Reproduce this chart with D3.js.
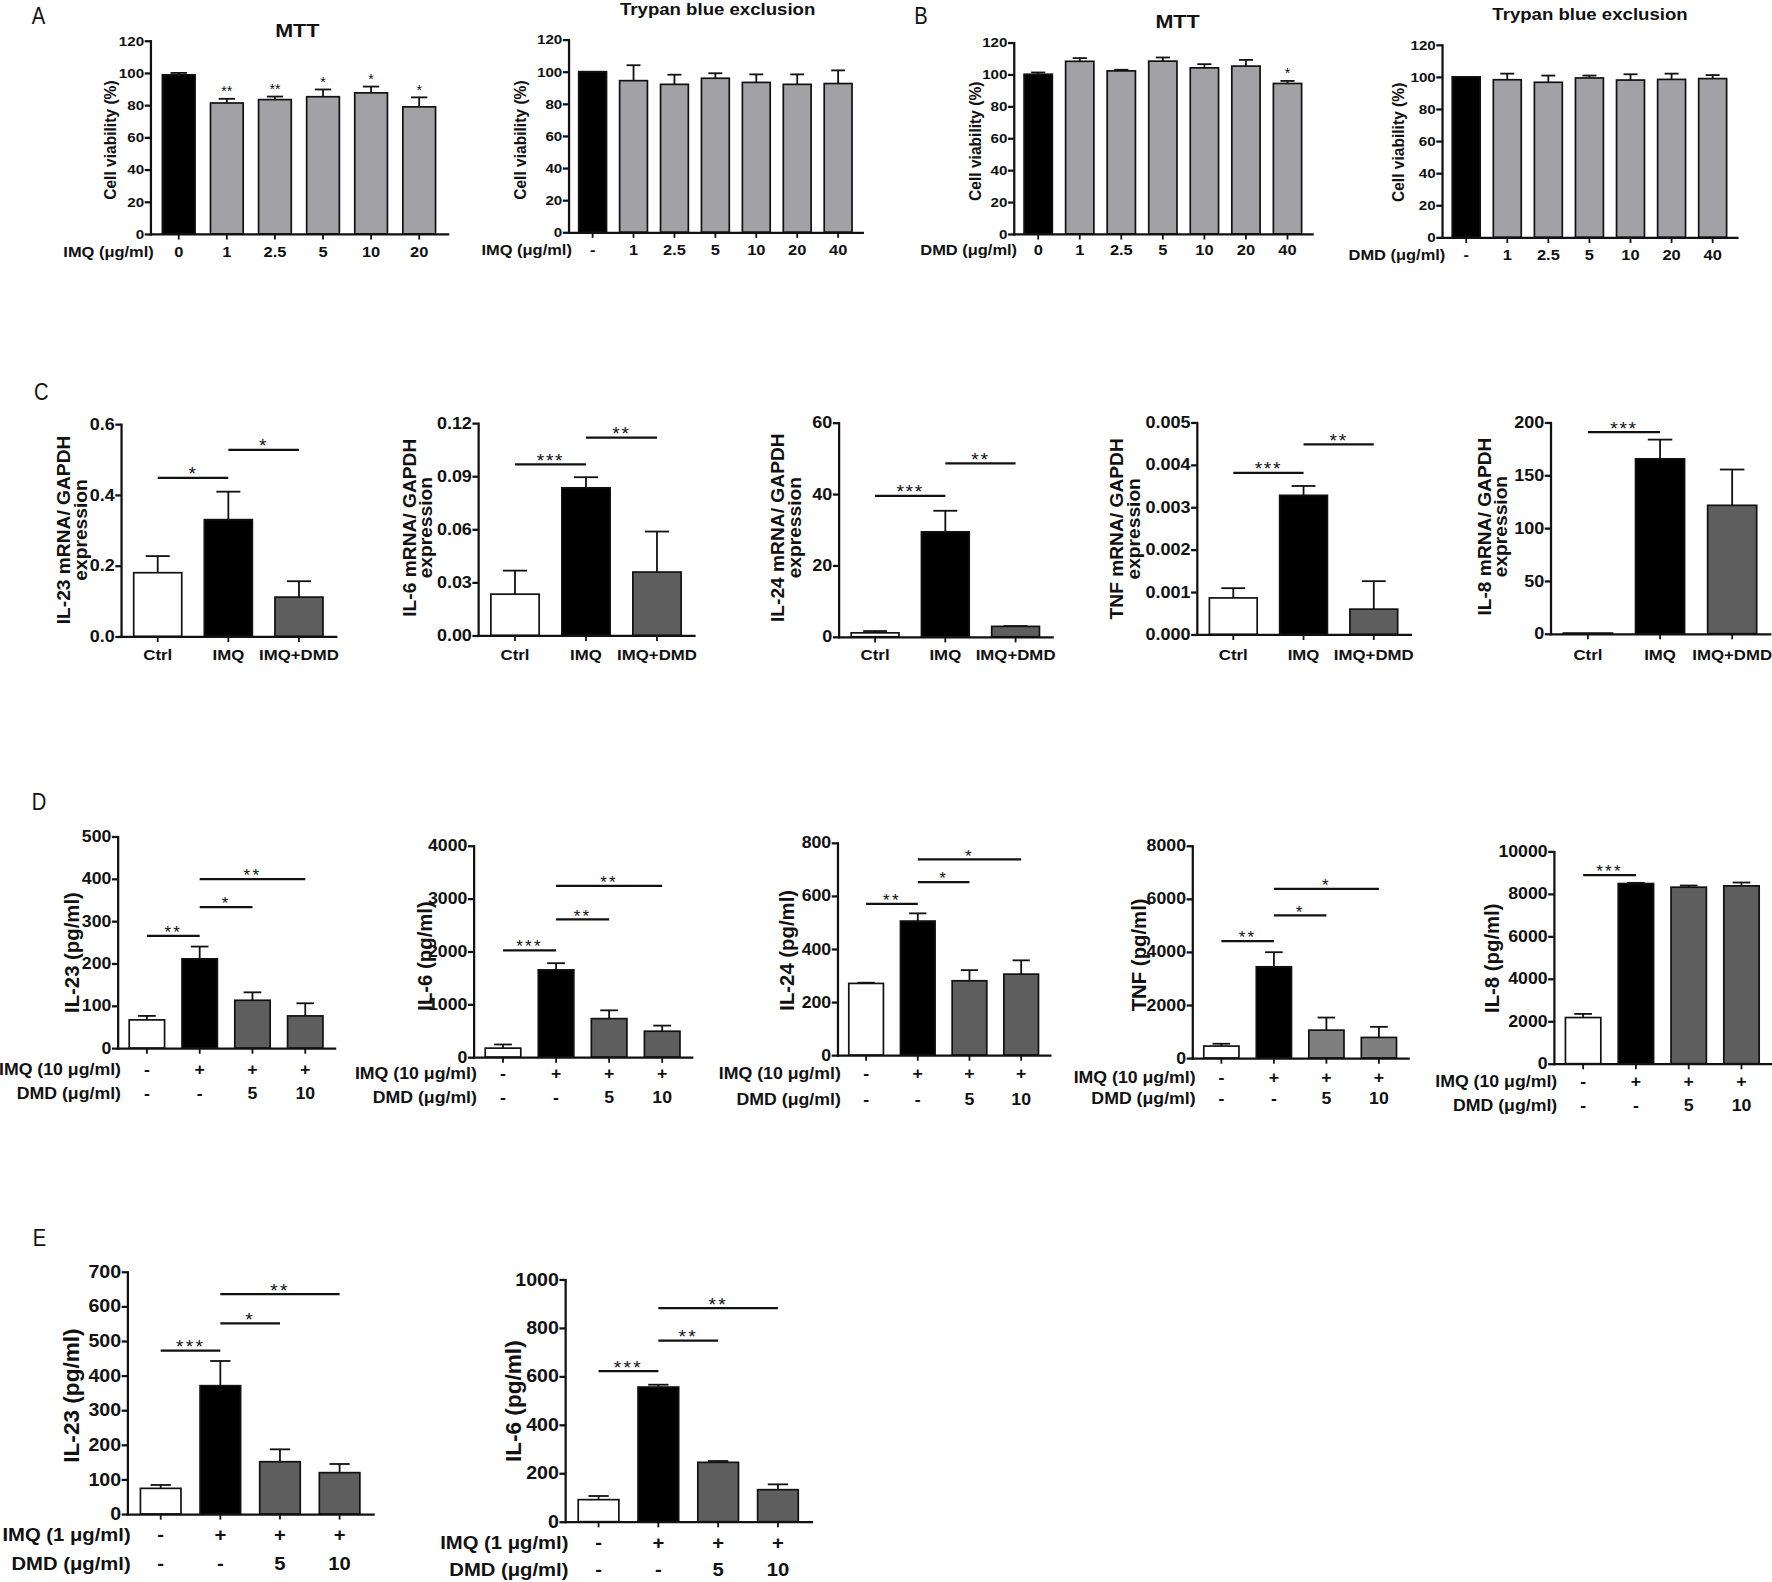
<!DOCTYPE html>
<html>
<head>
<meta charset="utf-8">
<script src="https://cdn.jsdelivr.net/npm/d3@7"></script>
<style>
  body { margin: 0; background: #fff; }
  svg { display: block; }
</style>
</head>
<body>
<svg id="fig"></svg>
<script>
// ---------- data ----------

// A: IMQ cytotoxicity
const imqDoseMTT = ["0", "1", "2.5", "5", "10", "20"];
const imqMTTMean = [98.8, 81.3, 83.4, 85.2, 87.6, 78.9];
const imqMTTErr = [1.2, 2.6, 1.9, 4.5, 3.9, 5.9];
const imqMTTStars = ["", "**", "**", "*", "*", "*"];

const imqDoseTrypan = ["-", "1", "2.5", "5", "10", "20", "40"];
const imqTrypanMean = [100, 94.4, 92.1, 95.9, 93.3, 92.1, 92.6];
const imqTrypanErr = [0, 9.6, 6.0, 3.1, 5.0, 6.2, 8.2];

// B: DMD cytotoxicity
const dmdDoseMTT = ["0", "1", "2.5", "5", "10", "20", "40"];
const dmdMTTMean = [100.1, 108.2, 102.2, 108.3, 104.1, 105.2, 94.3];
const dmdMTTErr = [1.1, 2.0, 0.7, 2.3, 2.3, 3.9, 1.6];
const dmdMTTStars = ["", "", "", "", "", "", "*"];

const dmdDoseTrypan = ["-", "1", "2.5", "5", "10", "20", "40"];
const dmdTrypanMean = [100, 98.2, 96.6, 99.3, 98.0, 98.4, 98.9];
const dmdTrypanErr = [0, 3.8, 4.2, 1.5, 3.6, 3.6, 2.2];

const viabilityTicks = [0, 20, 40, 60, 80, 100, 120];

// C: mRNA / GAPDH
const mrnaGroups = ["Ctrl", "IMQ", "IMQ+DMD"];
const il23mRNAMean = [0.18, 0.33, 0.111];
const il23mRNAErr = [0.047, 0.079, 0.045];
const il23mRNASig = [[0, 1, 0.448, "*"], [1, 2, 0.527, "*"]];
const il6mRNAMean = [0.0233, 0.0834, 0.0358];
const il6mRNAErr = [0.0133, 0.006, 0.0229];
const il6mRNASig = [[0, 1, 0.0966, "***"], [1, 2, 0.1118, "**"]];
const il24mRNAMean = [1.1, 29.4, 2.9];
const il24mRNAErr = [0.5, 5.9, 0.1];
const il24mRNASig = [[0, 1, 39.5, "***"], [1, 2, 48.6, "**"]];
const tnfmRNAMean = [0.00086, 0.00328, 0.000595];
const tnfmRNAErr = [0.00023, 0.00022, 0.00066];
const tnfmRNASig = [[0, 1, 0.00381, "***"], [1, 2, 0.00448, "**"]];
const il8mRNAMean = [0.6, 165.5, 121.5];
const il8mRNAErr = [0, 18.2, 33.9];
const il8mRNASig = [[0, 1, 190.9, "***"]];

// D: protein, IMQ 10 ug/ml
const imqSign = ["-", "+", "+", "+"];
const dmdDose = ["-", "-", "5", "10"];
const il23Mean = [66.6, 210.8, 112.9, 76.0];
const il23Err = [9.4, 29.0, 18.8, 29.8];
const il23Sig = [[0, 1, 265, "**"], [1, 2, 333, "*"], [1, 3, 399, "**"]];
const il6Mean = [170, 1651, 728, 490];
const il6Err = [69, 126, 157, 106];
const il6Sig = [[0, 1, 2021, "***"], [1, 2, 2605, "**"], [1, 3, 3239, "**"]];
const il24Mean = [270, 505, 280, 305];
const il24Err = [2.6, 29, 40, 52];
const il24Sig = [[0, 1, 570, "**"], [1, 2, 652, "*"], [1, 3, 737, "*"]];
const tnfMean = [450, 3437, 1050, 775];
const tnfErr = [87, 550, 475, 400];
const tnfSig = [[0, 1, 4400, "**"], [1, 2, 5375, "*"], [1, 3, 6375, "*"]];
const il8Mean = [2172, 8484, 8312, 8375];
const il8Err = [172, 32, 78, 156];
const il8Sig = [[0, 1, 8875, "***"]];

// E: protein, IMQ 1 ug/ml
const il23LowMean = [74, 370.7, 151, 119.4];
const il23LowErr = [9.8, 71.3, 35.8, 25];
const il23LowSig = [[0, 1, 471.8, "***"], [1, 2, 550.7, "*"], [1, 3, 635.5, "**"]];
const il6LowMean = [90.8, 555.7, 244.8, 132];
const il6LowErr = [15.1, 9.6, 5.5, 22];
const il6LowSig = [[0, 1, 621.7, "***"], [1, 2, 747, "**"], [1, 3, 881.7, "**"]];

// ---------- drawing ----------

const W = 1568, H = 1400;   // drawing units, stretched to the 1772x1582 window
const FONT = '"Liberation Sans", Arial, Helvetica, sans-serif';
const SX = 1.12;            // the figure's lettering is a bit wider than plain Arial

const svg = d3.select('#fig')
	.attr('width', 1772)
	.attr('height', 1582)
	.attr('viewBox', `0 0 ${W} ${H}`);

svg.append('rect').attr('width', W).attr('height', H).attr('fill', '#fff');

const INK = '#111';
const GRAY_AB = '#a2a2a6';
const DARK = '#5e5e5e';

const styleAB = {tick: 12, cat: 13, yl: 13.8, star: 12.5, starSp: 0, ylGap: 15};
const styleC = {tick: 14.2, cat: 13.3, yl: 17, star: 17, starSp: 1.5, ylGap: 14.5};
const styleD = {tick: 14, cat: 14, yl: 18, star: 15, starSp: 2, ylGap: 15};
const styleE = {tick: 15.5, cat: 16, yl: 20, star: 17, starSp: 2, ylGap: 15};

// move x/y into a transform so the glyphs can be widened around their anchor
function widen(sel, sx) {
	sel.each(function() {
		const t = d3.select(this);
		const x = +t.attr('x') || 0;
		const y = +t.attr('y') || 0;
		t.attr('x', null).attr('y', null)
			.attr('transform', `translate(${x},${y}) scale(${sx},1)`);
	});
}

function barPanel(p) {
	const s = p.style;
	const g = svg.append('g').attr('font-family', FONT).attr('fill', INK);
	const n = p.mean.length;

	const x = d3.scaleBand()
		.domain(d3.range(n))
		.range([p.left, p.right])
		.paddingInner(p.padIn || 0.32)
		.paddingOuter(p.padOut || 0.25);
	const y = d3.scaleLinear().domain([0, p.max]).range([p.bottom, p.top]);
	const bw = x.bandwidth();
	const cx = i => x(i) + bw / 2;

	const rows = p.mean.map((m, i) => ({i: i, m: m, e: p.err[i]}));

	// error bars (upper only, Prism style)
	const eb = g.append('g').attr('stroke', INK).attr('stroke-width', 1.6);
	eb.selectAll('line.stem')
		.data(rows.filter(d => d.e > 0))
		.join('line')
		.attr('x1', d => cx(d.i)).attr('x2', d => cx(d.i))
		.attr('y1', d => y(d.m)).attr('y2', d => y(d.m + d.e));
	eb.selectAll('line.cap')
		.data(rows.filter(d => d.e > 0))
		.join('line')
		.attr('x1', d => cx(d.i) - bw * 0.25).attr('x2', d => cx(d.i) + bw * 0.25)
		.attr('y1', d => y(d.m + d.e)).attr('y2', d => y(d.m + d.e));

	g.selectAll('rect.bar')
		.data(rows)
		.join('rect')
		.attr('x', d => x(d.i))
		.attr('y', d => y(d.m))
		.attr('width', bw)
		.attr('height', d => y(0) - y(d.m))
		.attr('fill', d => p.fills[d.i])
		.attr('stroke', INK)
		.attr('stroke-width', 1.5);

	// axes
	const yAxis = d3.axisLeft(y)
		.tickValues(p.ticks)
		.tickFormat(p.fmt || d3.format('d'))
		.tickSize(5).tickSizeOuter(0).tickPadding(0.5);
	g.append('g')
		.attr('transform', `translate(${p.left},0)`)
		.call(yAxis)
		.call(a => a.select('.domain').attr('stroke', INK).attr('stroke-width', 2).attr('stroke-linecap', 'square'))
		.call(a => a.selectAll('.tick line').attr('stroke', INK).attr('stroke-width', 2))
		.call(a => a.selectAll('.tick text')
			.attr('fill', INK)
			.attr('font-family', FONT)
			.attr('font-size', s.tick)
			.attr('font-weight', 'bold')
			.call(widen, SX));

	const xAxis = d3.axisBottom(x).tickFormat('').tickSize(5).tickSizeOuter(0);
	g.append('g')
		.attr('transform', `translate(0,${p.bottom})`)
		.call(xAxis)
		.call(a => a.select('.domain').attr('stroke', INK).attr('stroke-width', 2).attr('stroke-linecap', 'square'))
		.call(a => a.selectAll('.tick line').attr('stroke', INK).attr('stroke-width', 1.6));

	// category label rows
	p.rows.forEach(r => {
		g.append('g')
			.selectAll('text')
			.data(r.labels)
			.join('text')
			.attr('x', (d, i) => cx(i))
			.attr('y', r.y)
			.attr('text-anchor', 'middle')
			.attr('font-size', s.cat)
			.attr('font-weight', 'bold')
			.text(d => d)
			.call(widen, SX);
		if (r.name) {
			g.append('text')
				.attr('x', p.left + 3)
				.attr('y', r.y)
				.attr('text-anchor', 'end')
				.attr('font-size', s.cat)
				.attr('font-weight', 'bold')
				.text(r.name)
				.call(widen, SX);
		}
	});

	// y label, one or two lines
	p.yLabel.forEach((line, k) => {
		g.append('text')
			.attr('transform', `translate(${p.ylX + k * s.ylGap},${p.ylY}) rotate(-90)`)
			.attr('text-anchor', 'middle')
			.attr('dy', '0.36em')
			.attr('font-size', s.yl)
			.attr('font-weight', 'bold')
			.text(line);
	});

	// stars straight above bars
	if (p.barStars) {
		g.append('g')
			.selectAll('text')
			.data(rows.filter(d => p.barStars[d.i]))
			.join('text')
			.attr('x', d => cx(d.i))
			.attr('y', d => y(d.m + d.e) - 2.5)
			.attr('text-anchor', 'middle')
			.attr('font-size', s.star)
			.attr('letter-spacing', s.starSp)
			.text(d => p.barStars[d.i]);
	}

	// comparison brackets
	if (p.sig) {
		const sg = g.append('g');
		sg.selectAll('line')
			.data(p.sig)
			.join('line')
			.attr('x1', d => cx(d[0])).attr('x2', d => cx(d[1]))
			.attr('y1', d => y(d[2])).attr('y2', d => y(d[2]))
			.attr('stroke', INK).attr('stroke-width', 2);
		sg.selectAll('text')
			.data(p.sig)
			.join('text')
			.attr('x', d => (cx(d[0]) + cx(d[1])) / 2)
			.attr('y', d => y(d[2]) + 0.13 * s.star)
			.attr('text-anchor', 'middle')
			.attr('font-size', s.star)
			.attr('letter-spacing', s.starSp)
			.text(d => d[3]);
	}

	if (p.title) {
		g.append('text')
			.attr('x', p.titleX).attr('y', p.titleY)
			.attr('text-anchor', 'middle')
			.attr('font-size', p.titleFs)
			.attr('font-weight', 'bold')
			.text(p.title)
			.call(widen, SX);
	}
}

function panelLetter(t, x, y) {
	svg.append('text')
		.attr('x', x).attr('y', y)
		.attr('font-family', FONT)
		.attr('font-size', 21)
		.attr('fill', INK)
		.text(t)
		.call(widen, 0.85);
}

const abFills = n => d3.range(n).map(i => i === 0 ? '#000' : GRAY_AB);
const trioFills = ['#fff', '#000', DARK];
const quadFills = ['#fff', '#000', DARK, DARK];

// ----- row A / B -----
panelLetter('A', 28, 21);
barPanel({
	style: styleAB, mean: imqMTTMean, err: imqMTTErr, barStars: imqMTTStars,
	fills: abFills(6), max: 120, ticks: viabilityTicks,
	left: 133, right: 396, top: 36, bottom: 207,
	rows: [{name: 'IMQ (μg/ml)', labels: imqDoseMTT, y: 227}],
	yLabel: ['Cell viability (%)'], ylX: 98, ylY: 124,
	title: 'MTT', titleX: 263, titleY: 33, titleFs: 17
});
barPanel({
	style: styleAB, mean: imqTrypanMean, err: imqTrypanErr,
	fills: abFills(7), max: 120, ticks: viabilityTicks,
	left: 503, right: 763, top: 35, bottom: 205.5,
	rows: [{name: 'IMQ (μg/ml)', labels: imqDoseTrypan, y: 226}],
	yLabel: ['Cell viability (%)'], ylX: 460, ylY: 124,
	title: 'Trypan blue exclusion', titleX: 635, titleY: 13, titleFs: 14.7
});
panelLetter('B', 809, 21);
barPanel({
	style: styleAB, mean: dmdMTTMean, err: dmdMTTErr, barStars: dmdMTTStars,
	fills: abFills(7), max: 120, ticks: viabilityTicks,
	left: 897, right: 1161, top: 37.6, bottom: 207,
	rows: [{name: 'DMD (μg/ml)', labels: dmdDoseMTT, y: 226}],
	yLabel: ['Cell viability (%)'], ylX: 863, ylY: 125,
	title: 'MTT', titleX: 1042, titleY: 25, titleFs: 17
});
barPanel({
	style: styleAB, mean: dmdTrypanMean, err: dmdTrypanErr,
	fills: abFills(7), max: 120, ticks: viabilityTicks,
	left: 1276, right: 1537, top: 39.6, bottom: 210,
	rows: [{name: 'DMD (μg/ml)', labels: dmdDoseTrypan, y: 230}],
	yLabel: ['Cell viability (%)'], ylX: 1237, ylY: 126,
	title: 'Trypan blue exclusion', titleX: 1407, titleY: 18, titleFs: 14.7
});

// ----- row C -----
panelLetter('C', 30, 354);
const cRows = [{name: null, labels: mrnaGroups, y: 584}];
barPanel({
	style: styleC, mean: il23mRNAMean, err: il23mRNAErr, sig: il23mRNASig,
	fills: trioFills, max: 0.6, ticks: [0, 0.2, 0.4, 0.6], fmt: d3.format('.1f'),
	left: 107, right: 297, top: 375.3, bottom: 563.2, padOut: 0.18,
	rows: cRows, yLabel: ['IL-23 mRNA/ GAPDH', 'expression'], ylX: 56, ylY: 469
});
barPanel({
	style: styleC, mean: il6mRNAMean, err: il6mRNAErr, sig: il6mRNASig,
	fills: trioFills, max: 0.12, ticks: [0, 0.03, 0.06, 0.09, 0.12], fmt: d3.format('.2f'),
	left: 423, right: 614, top: 374.4, bottom: 562.3, padOut: 0.18,
	rows: cRows, yLabel: ['IL-6 mRNA/ GAPDH', 'expression'], ylX: 362, ylY: 467
});
barPanel({
	style: styleC, mean: il24mRNAMean, err: il24mRNAErr, sig: il24mRNASig,
	fills: trioFills, max: 60, ticks: [0, 20, 40, 60],
	left: 742, right: 931, top: 374, bottom: 563.5, padOut: 0.18,
	rows: cRows, yLabel: ['IL-24 mRNA/ GAPDH', 'expression'], ylX: 688, ylY: 467
});
barPanel({
	style: styleC, mean: tnfmRNAMean, err: tnfmRNAErr, sig: tnfmRNASig,
	fills: trioFills, max: 0.005, ticks: [0, 0.001, 0.002, 0.003, 0.004, 0.005], fmt: d3.format('.3f'),
	left: 1059, right: 1248, top: 373.8, bottom: 561.4, padOut: 0.18,
	rows: cRows, yLabel: ['TNF mRNA/ GAPDH', 'expression'], ylX: 988, ylY: 468
});
barPanel({
	style: styleC, mean: il8mRNAMean, err: il8mRNAErr, sig: il8mRNASig,
	fills: trioFills, max: 200, ticks: [0, 50, 100, 150, 200],
	left: 1372, right: 1566, top: 373.8, bottom: 560.8, padOut: 0.18,
	rows: cRows, yLabel: ['IL-8 mRNA/ GAPDH', 'expression'], ylX: 1313, ylY: 466
});

// ----- row D -----
panelLetter('D', 28, 717);
const dRows = (y1, y2) => [
	{name: 'IMQ (10 μg/ml)', labels: imqSign, y: y1},
	{name: 'DMD (μg/ml)', labels: dmdDose, y: y2}
];
barPanel({
	style: styleD, mean: il23Mean, err: il23Err, sig: il23Sig,
	fills: quadFills, max: 500, ticks: d3.range(0, 501, 100),
	left: 104, right: 296, top: 740.2, bottom: 927.5, padOut: 0.22, padIn: 0.33,
	rows: dRows(951, 973), yLabel: ['IL-23 (pg/ml)'], ylX: 63, ylY: 843
});
barPanel({
	style: styleD, mean: il6Mean, err: il6Err, sig: il6Sig,
	fills: quadFills, max: 4000, ticks: d3.range(0, 4001, 1000),
	left: 419, right: 612, top: 748.4, bottom: 935.5, padOut: 0.22, padIn: 0.33,
	rows: dRows(955, 976), yLabel: ['IL-6 (pg/ml)'], ylX: 376, ylY: 846
});
barPanel({
	style: styleD, mean: il24Mean, err: il24Err, sig: il24Sig,
	fills: quadFills, max: 800, ticks: d3.range(0, 801, 200),
	left: 741, right: 929, top: 745.8, bottom: 933.7, padOut: 0.22, padIn: 0.33,
	rows: dRows(955, 978), yLabel: ['IL-24 (pg/ml)'], ylX: 696, ylY: 841
});
barPanel({
	style: styleD, mean: tnfMean, err: tnfErr, sig: tnfSig,
	fills: ['#fff', '#000', '#7f7f7f', '#7f7f7f'], max: 8000, ticks: d3.range(0, 8001, 2000),
	left: 1055, right: 1246, top: 748.4, bottom: 936.3, padOut: 0.22, padIn: 0.33,
	rows: dRows(958, 977), yLabel: ['TNF (pg/ml)'], ylX: 1008, ylY: 845
});
barPanel({
	style: styleD, mean: il8Mean, err: il8Err, sig: il8Sig,
	fills: quadFills, max: 10000, ticks: d3.range(0, 10001, 2000),
	left: 1375, right: 1567, top: 753.4, bottom: 941.3, padOut: 0.22, padIn: 0.33,
	rows: dRows(962, 983), yLabel: ['IL-8 (pg/ml)'], ylX: 1320, ylY: 848
});

// ----- row E -----
panelLetter('E', 29, 1103);
const eRows = (y1, y2) => [
	{name: 'IMQ (1 μg/ml)', labels: imqSign, y: y1},
	{name: 'DMD (μg/ml)', labels: dmdDose, y: y2}
];
barPanel({
	style: styleE, mean: il23LowMean, err: il23LowErr, sig: il23LowSig,
	fills: quadFills, max: 700, ticks: d3.range(0, 701, 100),
	left: 112.6, right: 330, top: 1125.4, bottom: 1339.8, padOut: 0.22, padIn: 0.32,
	rows: eRows(1364, 1389), yLabel: ['IL-23 (pg/ml)'], ylX: 63, ylY: 1235
});
barPanel({
	style: styleE, mean: il6LowMean, err: il6LowErr, sig: il6LowSig,
	fills: quadFills, max: 1000, ticks: d3.range(0, 1001, 200),
	left: 500, right: 718, top: 1132.2, bottom: 1346.6, padOut: 0.22, padIn: 0.32,
	rows: eRows(1371, 1395), yLabel: ['IL-6 (pg/ml)'], ylX: 454, ylY: 1240
});
</script>
</body>
</html>
